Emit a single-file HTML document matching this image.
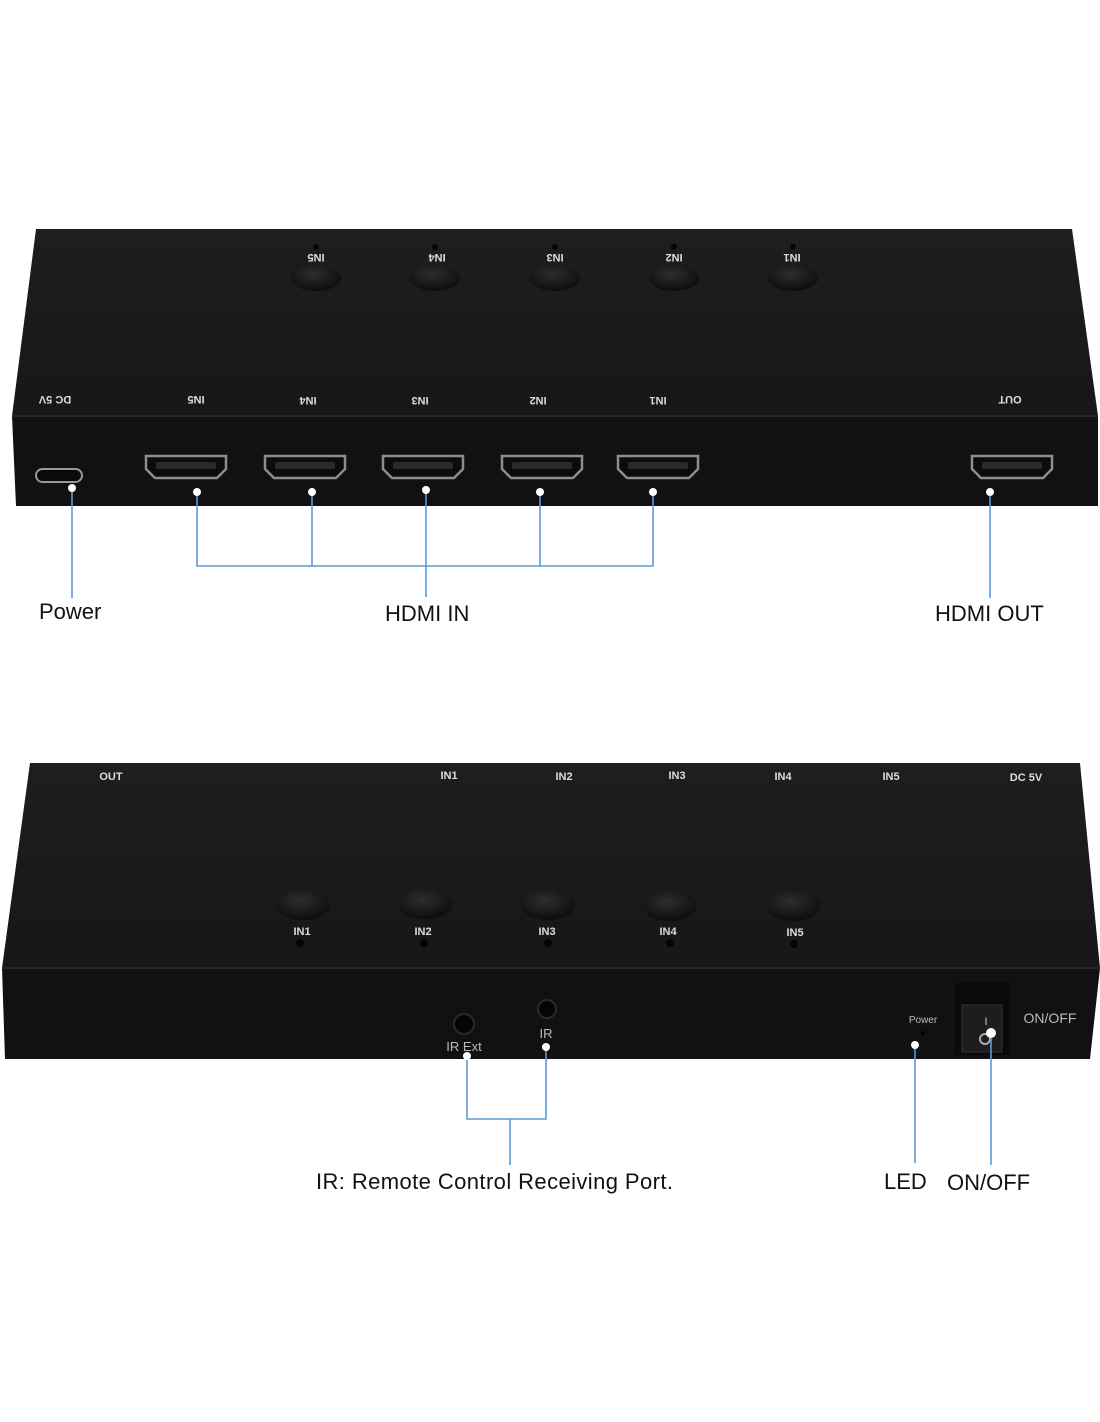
<!DOCTYPE html>
<html><head><meta charset="utf-8"><style>
html,body{margin:0;padding:0;background:#fff;}
svg{display:block;font-family:"Liberation Sans",sans-serif;}
</style></head><body>
<svg width="1100" height="1422" viewBox="0 0 1100 1422" xmlns="http://www.w3.org/2000/svg">
<defs>
<linearGradient id="tf" x1="0" y1="0" x2="0" y2="1"><stop offset="0" stop-color="#1e1e1e"/><stop offset="1" stop-color="#171717"/></linearGradient>
<radialGradient id="btn" cx="0.45" cy="0.35" r="0.7"><stop offset="0" stop-color="#2e2e2e"/><stop offset="1" stop-color="#0a0a0a"/></radialGradient>
<g id="hdmi"><path d="M-40,-11 L40,-11 L40,2 L31,11 L-31,11 L-40,2 Z" fill="#0c0c0c" stroke="#8d8d8d" stroke-width="2.5"/><rect x="-30" y="-5" width="60" height="7" rx="2" fill="#2a2a2a"/></g>
</defs>
<!-- TOP DEVICE -->
<polygon points="36,229 1072,229 1098,416 12,416" fill="url(#tf)"/>
<polygon points="12,416 1098,416 1098,506 16,506" fill="#111"/>
<line x1="12" y1="416" x2="1098" y2="416" stroke="#262626" stroke-width="2"/>
<g fill="#ddd" font-size="11" font-weight="bold">
<g transform="translate(316,258) rotate(180)"><text text-anchor="middle" y="4">IN5</text></g>
<g transform="translate(437,258) rotate(180)"><text text-anchor="middle" y="4">IN4</text></g>
<g transform="translate(555,258) rotate(180)"><text text-anchor="middle" y="4">IN3</text></g>
<g transform="translate(674,258) rotate(180)"><text text-anchor="middle" y="4">IN2</text></g>
<g transform="translate(792,258) rotate(180)"><text text-anchor="middle" y="4">IN1</text></g>
<g transform="translate(55,400) rotate(180)"><text text-anchor="middle" y="4">DC 5V</text></g>
<g transform="translate(196,400) rotate(180)"><text text-anchor="middle" y="4">IN5</text></g>
<g transform="translate(308,401) rotate(180)"><text text-anchor="middle" y="4">IN4</text></g>
<g transform="translate(420,401) rotate(180)"><text text-anchor="middle" y="4">IN3</text></g>
<g transform="translate(538,401) rotate(180)"><text text-anchor="middle" y="4">IN2</text></g>
<g transform="translate(658,401) rotate(180)"><text text-anchor="middle" y="4">IN1</text></g>
<g transform="translate(1010,400) rotate(180)"><text text-anchor="middle" y="4">OUT</text></g>
</g>
<g fill="url(#btn)">
<ellipse cx="316" cy="278" rx="25" ry="13"/><ellipse cx="435" cy="278" rx="25" ry="13"/><ellipse cx="555" cy="278" rx="25" ry="13"/><ellipse cx="674" cy="278" rx="25" ry="13"/><ellipse cx="793" cy="278" rx="25" ry="13"/>
</g>
<g fill="#050505"><circle cx="316" cy="247" r="3"/><circle cx="435" cy="247" r="3"/><circle cx="555" cy="247" r="3"/><circle cx="674" cy="247" r="3"/><circle cx="793" cy="247" r="3"/></g>
<rect x="36" y="469" width="46" height="13" rx="6.5" fill="#0a0a0a" stroke="#999" stroke-width="2"/>
<use href="#hdmi" x="186" y="467"/><use href="#hdmi" x="305" y="467"/><use href="#hdmi" x="423" y="467"/><use href="#hdmi" x="542" y="467"/><use href="#hdmi" x="658" y="467"/><use href="#hdmi" x="1012" y="467"/>
<g stroke="#5b9bd5" stroke-width="1.6" fill="none">
<line x1="72" y1="489" x2="72" y2="598"/>
<polyline points="197,492 197,566 653,566 653,492"/>
<line x1="312" y1="492" x2="312" y2="566"/><line x1="540" y1="492" x2="540" y2="566"/>
<line x1="426" y1="490" x2="426" y2="597"/>
<line x1="990" y1="492" x2="990" y2="598"/>
</g>
<g fill="#fff"><circle cx="72" cy="488" r="4"/><circle cx="197" cy="492" r="4"/><circle cx="312" cy="492" r="4"/><circle cx="426" cy="490" r="4"/><circle cx="540" cy="492" r="4"/><circle cx="653" cy="492" r="4"/><circle cx="990" cy="492" r="4"/></g>
<g fill="#111" font-size="22"><text x="39" y="619">Power</text><text x="385" y="621">HDMI IN</text><text x="935" y="621">HDMI OUT</text></g>
<!-- BOTTOM DEVICE -->
<polygon points="30,763 1080,763 1100,968 2,968" fill="url(#tf)"/>
<polygon points="2,968 1100,968 1090,1059 5,1059" fill="#111"/>
<line x1="2" y1="968" x2="1100" y2="968" stroke="#262626" stroke-width="2"/>
<g fill="#ddd" font-size="11" font-weight="bold" text-anchor="middle">
<text x="111" y="780">OUT</text><text x="449" y="779">IN1</text><text x="564" y="780">IN2</text><text x="677" y="779">IN3</text><text x="783" y="780">IN4</text><text x="891" y="780">IN5</text><text x="1026" y="781">DC 5V</text>
<text x="302" y="935">IN1</text><text x="423" y="935">IN2</text><text x="547" y="935">IN3</text><text x="668" y="935">IN4</text><text x="795" y="936">IN5</text>
</g>
<g fill="url(#btn)"><ellipse cx="303" cy="905" rx="27" ry="15"/><ellipse cx="425" cy="904" rx="27" ry="15"/><ellipse cx="548" cy="905" rx="27" ry="15"/><ellipse cx="670" cy="906" rx="27" ry="15"/><ellipse cx="793" cy="906" rx="27" ry="15"/></g>
<g fill="#050505"><circle cx="300" cy="943" r="4"/><circle cx="424" cy="943" r="4"/><circle cx="548" cy="943" r="4"/><circle cx="670" cy="943" r="4"/><circle cx="794" cy="944" r="4"/></g>
<circle cx="464" cy="1024" r="10" fill="#050505" stroke="#2a2a2a" stroke-width="2"/>
<circle cx="547" cy="1009" r="9" fill="#050505" stroke="#2a2a2a" stroke-width="2"/>
<g fill="#bbb" font-size="13" text-anchor="middle"><text x="464" y="1051">IR Ext</text><text x="546" y="1038">IR</text><text x="923" y="1023" font-size="10">Power</text><text x="1050" y="1023" font-size="14">ON/OFF</text></g>
<circle cx="923" cy="1033" r="2" fill="#000"/>
<rect x="955" y="983" width="55" height="72" fill="#0a0a0a"/>
<rect x="962" y="1005" width="40" height="47" fill="#1d1d1d" stroke="#333"/>
<text x="986" y="1025" fill="#ccc" font-size="11" text-anchor="middle">I</text>
<circle cx="985" cy="1039" r="5" fill="none" stroke="#aaa" stroke-width="2"/>
<g stroke="#5b9bd5" stroke-width="1.6" fill="none">
<polyline points="467,1057 467,1119 546,1119 546,1047"/>
<line x1="510" y1="1119" x2="510" y2="1165"/>
<line x1="915" y1="1045" x2="915" y2="1163"/>
<line x1="991" y1="1033" x2="991" y2="1165"/>
</g>
<g fill="#fff"><circle cx="467" cy="1056" r="4"/><circle cx="546" cy="1047" r="4"/><circle cx="915" cy="1045" r="4"/><circle cx="991" cy="1033" r="5"/></g>
<g fill="#111" font-size="22"><text x="316" y="1189" textLength="357" lengthAdjust="spacing">IR: Remote Control Receiving Port.</text><text x="884" y="1189">LED</text><text x="947" y="1190">ON/OFF</text></g>
</svg>
</body></html>
